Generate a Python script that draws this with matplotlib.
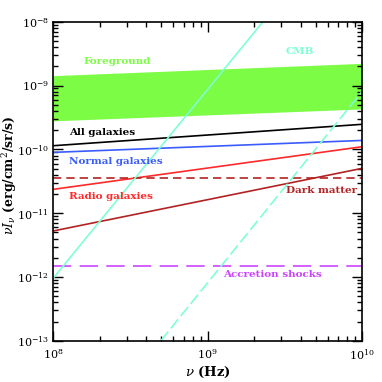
import matplotlib
matplotlib.use("Agg")
import matplotlib.pyplot as plt
from matplotlib.ticker import LogLocator, NullFormatter

plt.rcParams["font.family"] = ["DejaVu Serif"]
plt.rcParams["mathtext.fontset"] = "dejavuserif"

# frequency range (Hz) for the two-point power-law lines
nu_ends = [1e8, 1e10]

# foreground band, lower / upper edge
fg_low = [2.8e-10, 4.3e-10]
fg_high = [1.43e-9, 2.23e-9]

all_gal = [1.14e-10, 2.47e-10]
normal_gal = [8.97e-11, 1.38e-10]
radio_gal = [2.36e-11, 1.10e-10]
dark_matter = [5.25e-12, 5.04e-11]
dark_matter_flat = [3.5e-11, 3.5e-11]
accretion = [1.48e-12, 1.48e-12]

# CMB lines (endpoints)
cmb_nu = [1e8, 2.28e9]
cmb_val = [9.5e-13, 1e-8]
cmb2_nu = [4.98e8, 1e10]
cmb2_val = [1e-13, 8.1e-10]

c_green = "#7cfc45"
c_cmb = "#7fffd4"
c_red = "#ff2a2a"
c_dark = "#b22222"
c_blue = "#3a5cff"
c_mag = "#cc44ff"

fig = plt.figure(figsize=(3.82, 3.82), dpi=100)
ax = fig.add_axes([0.139, 0.108, 0.809, 0.835])

ax.fill_between(nu_ends, fg_low, fg_high, color=c_green, lw=0)
ax.plot(nu_ends, all_gal, color="black", lw=1.2)
ax.plot(nu_ends, normal_gal, color=c_blue, lw=1.2)
ax.plot(nu_ends, radio_gal, color=c_red, lw=1.2)
ax.plot(nu_ends, dark_matter, color=c_dark, lw=1.2)
ax.plot(nu_ends, dark_matter_flat, color=c_dark, lw=1.2, dashes=(5, 3))
ax.plot(nu_ends, accretion, color=c_mag, lw=1.2, dashes=(11, 5))
ax.plot(cmb_nu, cmb_val, color=c_cmb, lw=1.2)
ax.plot(cmb2_nu, cmb2_val, color=c_cmb, lw=1.2, dashes=(7, 2.5))

ax.set_xscale("log")
ax.set_yscale("log")
ax.set_xlim(1e8, 1e10)
ax.set_ylim(1e-13, 1e-8)

ax.xaxis.set_minor_locator(LogLocator(base=10, subs=range(2, 10), numticks=20))
ax.yaxis.set_minor_locator(LogLocator(base=10, subs=range(2, 10), numticks=20))
ax.xaxis.set_minor_formatter(NullFormatter())
ax.yaxis.set_minor_formatter(NullFormatter())
ax.tick_params(which="both", direction="in", top=True, right=True, width=1.0,
               labelsize=8)
ax.tick_params(which="major", length=7, pad=3)
ax.tick_params(axis="x", which="major", pad=5)
ax.tick_params(which="minor", length=3.5)
for s in ax.spines.values():
    s.set_linewidth(1.2)

ax.set_xlabel(r"$\nu$ (Hz)", fontsize=9.5, fontweight="bold", labelpad=2)
ax.set_ylabel(r"$\nu I_\nu$ (erg/cm$^2$/sr/s)", fontsize=9, fontweight="bold")
ax.yaxis.set_label_coords(-0.11, 0.52)

txt = dict(fontsize=7.5, fontweight="bold", transform=ax.transAxes, va="center")
ax.text(0.097, 0.874, "Foreground", color=c_green, **txt)
ax.text(0.752, 0.906, "CMB", color=c_cmb, **txt)
ax.text(0.052, 0.652, "All galaxies", color="black", **txt)
ax.text(0.052, 0.561, "Normal galaxies", color=c_blue, **txt)
ax.text(0.052, 0.451, "Radio galaxies", color=c_red, **txt)
ax.text(0.985, 0.470, "Dark matter", color=c_dark, ha="right",
        fontsize=7.5, fontweight="bold", transform=ax.transAxes, va="center")
ax.text(0.55, 0.208, "Accretion shocks", color=c_mag, **txt)

fig.savefig("out.png", dpi=100)
